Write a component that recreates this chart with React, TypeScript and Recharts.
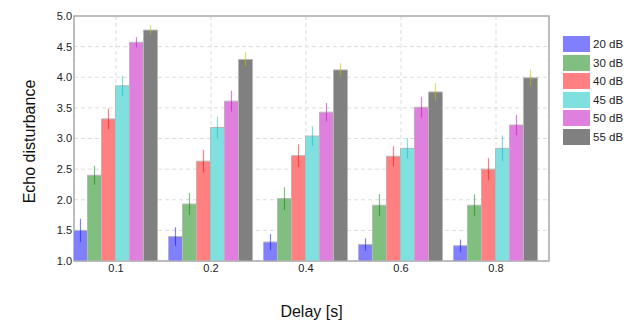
import React from 'react';
import { BarChart, Bar, XAxis, YAxis, CartesianGrid, ErrorBar, Legend, ReferenceArea } from 'recharts';

const delays = ['0.1', '0.2', '0.4', '0.6', '0.8'];
const seriesNames = ['20 dB', '30 dB', '40 dB', '45 dB', '50 dB', '55 dB'];
const v20 = [1.50, 1.40, 1.31, 1.27, 1.25];
const v30 = [2.40, 1.93, 2.02, 1.91, 1.91];
const v40 = [3.32, 2.63, 2.72, 2.71, 2.50];
const v45 = [3.86, 3.18, 3.04, 2.84, 2.84];
const v50 = [4.57, 3.61, 3.43, 3.51, 3.22];
const v55 = [4.77, 4.29, 4.12, 3.76, 3.99];
const e20 = [0.19, 0.15, 0.13, 0.10, 0.10];
const e30 = [0.155, 0.18, 0.185, 0.18, 0.18];
const e40 = [0.17, 0.185, 0.185, 0.165, 0.18];
const e45 = [0.165, 0.175, 0.16, 0.165, 0.21];
const e50 = [0.085, 0.17, 0.15, 0.17, 0.165];
const e55 = [0.08, 0.12, 0.11, 0.145, 0.135];
const yTicks = [1.0, 1.5, 2.0, 2.5, 3.0, 3.5, 4.0, 4.5, 5.0];

const values = [v20, v30, v40, v45, v50, v55];
const errors = [e20, e30, e40, e45, e50, e55];
const barColors = ['#8080ff', '#80bf80', '#ff8080', '#80dfdf', '#df80df', '#808080'];
const errColors = ['rgba(0,0,255,0.5)', 'rgba(0,128,0,0.5)', 'rgba(255,0,0,0.5)', 'rgba(0,191,191,0.5)', 'rgba(191,0,191,0.5)', 'rgba(191,191,0,0.55)'];

const data = delays.map((d, i) => {
  const row: any = { x: i, delay: d };
  values.forEach((arr, s) => {
    row['v' + s] = arr[i];
    row['e' + s] = errors[s][i];
  });
  return row;
});

const X_MIN = -0.442;
const X_MAX = 4.558;
const FONT = '"Liberation Sans", Arial, sans-serif';

const renderLegend = (props: any) => {
  const { payload } = props;
  return (
    <div style={{ display: 'flex', flexDirection: 'column', fontFamily: FONT }}>
      {payload.map((p: any) => (
        <div key={p.value} style={{ display: 'flex', alignItems: 'center', height: 16, marginBottom: 2.5 }}>
          <span style={{ display: 'inline-block', width: 27, height: 16, background: p.color }} />
          <span style={{ marginLeft: 3, fontSize: 11.5, color: '#222' }}>{p.value}</span>
        </div>
      ))}
    </div>
  );
};

export default function App() {
  return (
    <div style={{ position: 'absolute', left: 0, top: 0, background: '#fff' }}>
      <BarChart
        width={635}
        height={322}
        data={data}
        margin={{ top: 16, right: 86, bottom: 0, left: 0 }}
        barGap={0}
        style={{ fontFamily: FONT }}
      >
        <CartesianGrid stroke="#dcdcdc" strokeDasharray="4 3" />
        <XAxis
          dataKey="x"
          type="number"
          domain={[X_MIN, X_MAX]}
          allowDataOverflow
          ticks={[0, 1, 2, 3, 4]}
          tickFormatter={(i: number) => delays[i]}
          axisLine={false}
          tickLine={false}
          tickSize={0}
          tickMargin={3}
          height={61}
          tick={{ fontSize: 11, fill: '#222' }}
          label={{
            content: (p: any) => {
              const vb = p.viewBox;
              return (
                <text x={vb.x + vb.width / 2} y={vb.y + 50} textAnchor="middle" dominantBaseline="central" fontSize={16} fill="#111" fontFamily={FONT}>
                  Delay [s]
                </text>
              );
            },
          }}
        />
        <YAxis
          type="number"
          domain={[1, 5]}
          ticks={yTicks}
          tickFormatter={(v: number) => v.toFixed(1)}
          axisLine={false}
          tickLine={false}
          tickSize={0}
          tickMargin={2}
          width={74}
          tick={{ fontSize: 11, fill: '#222' }}
          label={{
            content: (p: any) => {
              const vb = p.viewBox;
              const cx = vb.x + 29;
              const cy = vb.y + vb.height / 2 + 3;
              return (
                <text x={cx} y={cy} transform={`rotate(-90 ${cx} ${cy})`} textAnchor="middle" dominantBaseline="central" fontSize={16} fill="#111" fontFamily={FONT}>
                  Echo disturbance
                </text>
              );
            },
          }}
        />
        <Legend
          layout="vertical"
          align="center"
          verticalAlign="middle"
          content={renderLegend}
          wrapperStyle={{ left: 563, top: 36, width: 70 }}
        />
        {seriesNames.map((name, s) => (
          <Bar
            key={name}
            dataKey={'v' + s}
            name={name}
            fill={barColors[s]}
            stroke="#b8b8b8"
            strokeWidth={1}
            barSize={14}
            isAnimationActive={false}
          >
            <ErrorBar dataKey={'e' + s} width={0} stroke={errColors[s]} strokeWidth={1.2} direction="y" />
          </Bar>
        ))}
        <ReferenceArea x1={X_MIN} x2={X_MAX} y1={1} y2={5} fill="none" stroke="#aaaaaa" strokeWidth={1.5} ifOverflow="visible" />
      </BarChart>
    </div>
  );
}
